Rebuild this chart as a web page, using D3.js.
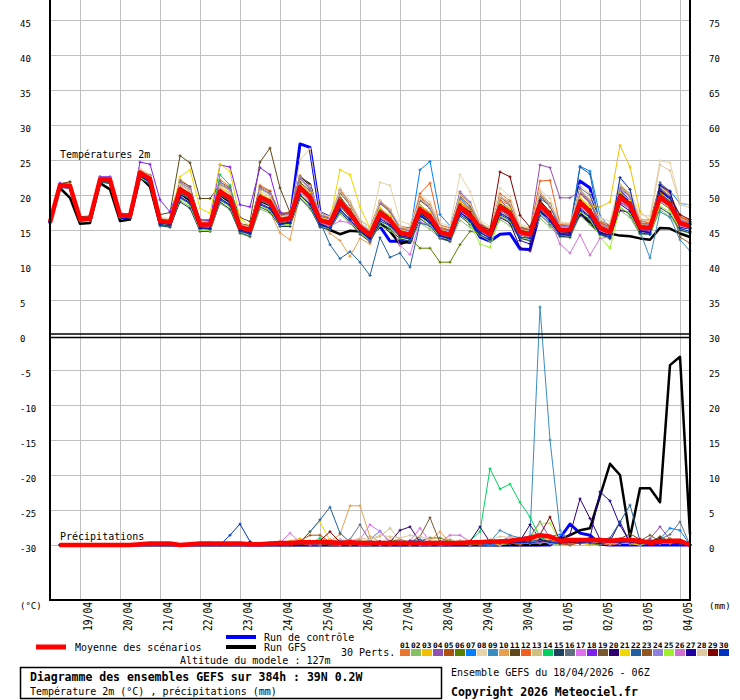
<!DOCTYPE html>
<html><head><meta charset="utf-8">
<script src="https://cdn.jsdelivr.net/npm/d3@7"></script>
<style>body{margin:0;background:#fff}svg{display:block}text{font-family:"DejaVu Sans Mono",monospace;fill:#000}</style>
</head><body><svg id="chart" width="740" height="700"></svg>
<script>
// ---------- DATA ----------
const stepHours = 6;
const dayLabels = ["19/04","20/04","21/04","22/04","23/04","24/04","25/04","26/04","27/04","28/04","29/04","30/04","01/05","02/05","03/05","04/05"];
const dayHours = [18,42,66,90,114,138,162,186,210,234,258,282,306,330,354,378];
const leftTicks = [45,40,35,30,25,20,15,10,5,0,-5,-10,-15,-20,-25,-30];
const rightTicks = [75,70,65,60,55,50,45,40,35,30,25,20,15,10,5,0];
const tempGrid = [45,40,35,30,25,20,15,10,5];
const lowGrid = [-5,-10,-15,-20,-25,-30];
const pertNames = ["01","02","03","04","05","06","07","08","09","10","11","12","13","14","15","16","17","18","19","20","21","22","23","24","25","26","27","28","29","30"];
const pertColors = ["#e87830","#88c060","#f0c000","#9050b0","#b05010","#5a8000","#0080ff","#e8d4a8","#3a8cc0","#e8a050","#604818","#f06020","#d0c080","#00d060","#204060","#607080","#e070f0","#8020f0","#785830","#300070","#f0d800","#2060a0","#905820","#9080e0","#a0f030","#d070d0","#2000a0","#e0c8a0","#800000","#0030c0"];

// 2m temperature (°C), every 6 h from 18/04 06Z
const tMean = [16.1, 21.4,21.3,16.6,16.6,22.2,22.2,17.1,17.0, 23.2,22.3,16.3,16.1,20.8,19.9,15.8,15.8, 20.5,19.6,15.4,15.0,19.7,19.0,16.4,16.7, 21.1,19.7,16.4,16.0,19.0,17.4,15.4,14.3, 17.4,16.4,14.6,14.3,17.9,16.9,14.7,14.3, 18.3,17.1,15.3,14.4,18.3,17.4,14.7,14.4, 18.6,17.1,15.0,15.0,18.9,17.6,15.3,14.7, 19.7,18.6,15.4,15.3,19.7,18.6,16.0,15.6];
const tGFS = [16.2, 21.0,19.6,15.9,16.0,21.7,20.8,16.3,16.5, 22.6,21.2,15.8,15.6,20.3,19.2,15.3,15.5, 20.0,19.0,15.0,14.6,19.2,18.5,16.0,16.2, 22.5,21.5,16.0,15.0,14.4,14.9,14.8,13.8, 16.0,14.8,13.0,13.5,17.5,16.5,14.5,14.0, 18.0,17.0,15.0,14.2,18.0,17.0,14.5,14.0, 18.5,17.0,14.8,14.6,17.5,16.0,14.6,14.5, 14.2,14.1,13.8,13.6,15.3,15.2,14.5,14.0];
const tCtrl = [16.2, 21.2,21.1,16.4,16.5,22.0,21.8,16.8,16.8, 22.8,21.8,16.0,15.8,20.3,19.4,15.5,15.5, 20.1,19.1,15.1,14.7,19.4,18.7,16.0,16.4, 27.3,26.8,17.5,16.8,19.5,17.6,15.2,14.3, 15.5,13.4,13.4,13.2,17.2,16.2,14.0,13.6, 17.8,16.5,14.0,13.4,14.4,14.5,12.3,12.2, 17.5,17.0,14.4,14.6,22.0,21.0,14.8,14.4, 20.5,19.0,15.0,14.8,20.5,19.4,15.5,15.3];
const tPerts = [
[16.2, 21.6,21.8,16.8,16.9,22.6,22.5,17.4,17.3, 23.6,22.8,16.6,16.0,22.2,21.2,16.3,16.2, 22.2,21.2,15.8,15.4,21.4,20.6,17.2,17.5, 22.8,21.4,17.2,16.8,20.8,18.9,16.0,14.9, 19.2,17.9,15.3,15.1,19.8,18.6,15.4,15.0, 20.4,18.9,15.8,15.0,20.2,19.2,15.3,14.9, 20.4,18.8,15.8,15.5,20.8,19.3,16.2,15.4, 21.2,20.0,16.3,16.0,21.5,20.2,16.8,16.2],
[16.1, 21.2,21.0,16.4,16.5,21.9,22.0,17.0,16.9, 22.6,21.6,15.8,15.4,19.2,18.3,15.0,14.8, 18.8,17.9,14.5,14.0,18.0,17.4,15.6,15.7, 19.4,18.0,15.5,15.2,17.3,15.9,14.6,13.4, 15.6,14.9,13.8,13.4,16.0,15.1,13.8,13.3, 16.4,15.4,14.2,13.4,16.5,15.6,13.8,13.4, 16.7,15.4,14.0,13.9,17.0,15.8,14.3,13.7, 17.8,16.8,14.4,14.3,17.9,16.9,14.9,14.5],
[16.2, 21.5,21.4,16.7,16.6,22.3,22.4,17.2,17.1, 23.5,22.6,16.5,16.3,21.2,20.3,16.0,16.0, 21.0,20.2,15.6,15.2,20.2,19.4,16.6,16.9, 21.6,20.4,16.8,16.2,19.6,17.9,15.6,14.5, 17.8,16.8,14.9,14.6,18.4,17.4,15.0,14.6, 18.8,17.6,15.6,14.8,18.8,17.9,15.0,14.7, 19.0,17.6,15.4,15.6,19.6,18.4,18.3,19.0, 27.1,24.0,17.6,16.4,21.0,19.6,16.6,16.0],
[16.1, 21.3,21.2,16.5,16.6,22.1,22.0,17.0,17.0, 23.0,22.2,16.4,16.2,20.9,20.1,15.9,15.9, 20.6,19.8,15.5,15.1,20.0,19.3,16.5,16.8, 21.3,20.0,16.6,16.2,19.4,17.7,15.6,14.5, 17.9,16.8,14.8,14.6,18.5,17.4,15.0,14.6, 18.9,17.8,15.7,14.9,19.2,18.0,15.4,15.0, 24.3,23.9,19.6,19.6,20.5,19.0,16.0,15.5, 20.6,19.3,16.0,15.8,20.4,19.2,16.5,16.1],
[16.2, 21.4,21.5,16.6,16.7,22.4,22.3,17.3,17.2, 23.4,22.5,16.5,16.2,21.8,20.9,16.4,16.5, 21.6,20.6,15.9,15.6,21.2,20.5,17.3,17.6, 22.6,21.0,17.3,17.0,20.6,18.8,16.4,15.4, 19.0,17.8,15.5,15.3,19.6,18.4,15.7,15.3, 20.2,18.7,16.0,15.2,19.8,18.9,15.4,15.1, 20.2,18.6,15.9,15.8,20.6,19.2,16.3,15.7, 21.4,20.2,16.5,16.4,21.4,20.1,17.0,16.2],
[16.0, 21.2,21.1,16.5,16.4,22.0,21.9,16.9,16.8, 22.9,22.0,16.1,15.9,20.5,19.6,15.6,15.6, 20.2,19.3,15.2,14.8,19.4,18.7,16.2,16.4, 20.7,19.3,16.1,15.7,18.6,17.0,15.0,14.0, 16.9,15.9,14.1,13.8,12.4,12.4,10.4,10.4, 12.9,14.8,14.6,13.9,17.5,16.6,14.3,13.9, 17.9,16.5,14.6,14.5,18.2,17.0,14.9,14.3, 19.0,18.0,15.0,14.8,19.0,18.0,15.5,15.2],
[16.1, 21.5,21.3,16.6,16.5,22.3,22.2,17.1,17.0, 23.3,22.4,16.3,16.0,20.9,20.0,15.7,15.7, 20.6,19.7,15.3,14.9,19.9,19.2,16.4,16.8, 21.5,20.1,16.5,16.1,19.4,17.6,15.5,14.4, 17.6,16.6,14.8,14.5,23.6,24.8,17.2,15.6, 19.6,18.0,15.6,14.6,18.8,17.8,15.0,14.7, 19.2,17.5,15.2,15.3,24.1,23.4,17.0,15.4, 20.4,19.2,15.7,15.6,21.5,20.6,18.8,18.6],
[16.2, 21.6,21.6,16.8,16.8,22.6,22.6,17.4,17.3, 23.8,22.9,16.8,16.6,21.8,20.9,16.4,16.3, 21.4,20.5,15.9,15.5,20.8,20.1,17.0,17.3, 22.5,21.2,17.3,16.9,21.0,19.2,16.4,15.4, 21.8,21.4,16.3,15.8,20.0,19.0,16.0,15.6, 22.9,20.5,16.4,15.5,21.0,19.8,15.8,15.4, 20.8,19.5,16.2,16.0,21.4,20.2,16.8,16.2, 22.2,20.8,17.2,17.0,24.9,24.6,18.9,18.6],
[16.1, 21.3,21.2,16.5,16.5,22.0,22.1,17.0,16.9, 22.9,22.0,16.0,15.6,19.6,18.6,15.2,15.4, 19.6,18.6,15.0,14.6,19.4,18.5,16.1,16.4, 20.8,19.2,16.0,15.6,18.4,16.9,15.1,14.2, 17.0,16.0,14.4,14.0,17.6,16.5,14.4,14.0, 18.0,16.8,15.0,14.2,18.0,17.2,14.6,14.2, 18.4,17.0,14.8,14.8,18.8,17.2,15.0,14.5, 19.4,18.0,14.8,11.0,17.6,16.8,13.6,12.0],
[16.2, 21.4,21.3,16.6,16.6,22.2,22.1,17.1,17.0, 23.1,22.2,16.2,16.0,20.6,19.7,15.6,15.6, 20.3,19.4,15.2,14.7,18.8,17.6,14.6,13.6, 20.0,19.0,16.0,14.5,13.5,11.2,13.8,13.0, 16.8,16.2,14.4,14.0,18.0,17.0,14.8,14.4, 18.6,17.4,15.4,14.6,18.6,17.6,15.0,14.6, 18.8,17.2,15.2,15.1,19.2,17.9,15.6,14.9, 20.0,18.9,15.8,15.6,20.0,19.0,16.4,15.9],
[16.2, 21.6,21.9,16.9,17.0,22.4,22.5,17.2,17.2, 23.4,22.8,17.2,17.5,25.6,24.6,19.5,19.5, 21.5,20.8,16.8,16.2,24.7,26.7,21.0,17.5, 21.8,20.6,17.0,16.6,19.6,18.0,15.8,14.8, 17.8,16.9,15.0,14.8,18.5,17.5,15.1,14.7, 19.0,17.6,15.7,14.8,18.8,17.8,15.1,14.8, 19.0,17.4,15.3,15.2,19.4,18.0,15.6,15.0, 20.0,19.0,15.8,15.6,20.2,19.0,16.2,15.8],
[16.2, 21.5,21.4,16.7,16.7,22.4,22.3,17.2,17.1, 23.4,22.5,16.5,16.2,21.0,20.1,15.9,15.9, 20.8,19.8,15.5,15.1,20.0,19.3,16.7,17.0, 21.4,20.0,16.6,16.3,19.5,17.9,15.7,14.6, 18.0,17.0,15.0,14.7,20.2,21.7,15.4,14.9, 19.3,17.9,15.8,14.8,19.3,18.5,15.2,14.9, 22.0,22.1,15.8,15.5,20.2,18.8,16.0,15.4, 21.4,20.0,16.3,16.0,21.0,19.6,16.8,16.5],
[16.1, 21.4,21.2,16.6,16.6,22.1,22.2,17.1,17.0, 23.2,22.3,16.2,16.1,21.6,20.8,16.1,16.0, 21.6,20.6,15.8,15.4,20.8,20.1,16.9,17.2, 22.2,20.8,16.9,16.5,20.4,18.6,15.9,14.8, 18.8,17.6,15.1,14.8,19.3,18.1,15.2,14.8, 19.8,18.3,15.8,14.8,19.8,18.7,15.2,14.8, 20.0,18.4,15.5,15.5,20.3,18.9,15.8,15.1, 21.2,20.0,15.9,15.8,21.2,20.0,16.5,16.0],
[16.1, 21.3,21.3,16.5,16.6,22.2,22.1,17.0,17.0, 23.0,22.1,16.3,16.1,20.4,19.5,15.6,15.6, 22.9,21.4,15.8,15.2,19.6,18.9,16.3,16.5, 20.9,19.5,16.3,15.9,18.8,17.2,15.3,14.2, 17.2,16.3,14.5,14.2,17.8,16.8,14.6,14.2, 18.1,17.0,15.1,14.2,18.0,17.1,14.5,14.2, 18.4,17.0,14.9,14.9,18.7,17.4,15.1,14.5, 19.5,18.4,15.3,15.1,19.6,18.4,15.8,15.4],
[16.0, 21.1,21.0,16.3,16.4,21.8,21.8,16.8,16.7, 22.4,21.5,15.6,15.4,19.0,18.1,14.8,14.8, 19.0,18.0,14.6,14.1,18.3,17.6,15.5,15.5, 19.6,18.2,15.4,15.0,17.6,16.1,14.4,13.3, 16.0,15.2,13.7,13.4,16.6,15.6,13.8,13.4, 17.0,15.8,14.3,13.6,17.0,16.1,13.8,13.5, 17.2,15.8,14.1,14.0,17.4,16.3,14.4,13.8, 18.2,17.2,14.5,14.4,18.2,17.3,15.0,14.6],
[16.2, 21.4,21.4,16.7,16.7,22.3,22.2,17.1,17.1, 23.3,22.4,16.4,16.2,20.2,19.4,15.4,15.3, 20.0,19.1,15.0,14.6,19.2,18.6,16.0,16.2, 20.5,19.1,16.0,15.5,18.4,16.8,15.0,13.9, 16.8,15.8,14.2,13.9,17.3,16.3,14.3,13.9, 17.7,16.5,14.9,14.0,17.8,16.8,14.3,14.0, 18.0,16.6,14.6,14.6,21.0,20.0,14.9,14.3, 19.1,18.0,15.0,14.9,21.8,20.4,15.6,15.2],
[16.1, 21.5,21.4,16.7,16.6,22.5,22.3,17.0,16.9, 23.1,22.2,16.1,15.8,20.5,19.6,15.6,15.5, 20.4,19.6,15.3,14.9,19.5,18.8,16.2,16.4, 20.6,19.3,16.1,15.5,16.3,16.0,14.8,13.5, 16.8,16.0,12.8,11.5,16.2,15.6,14.0,13.6, 17.6,16.8,14.8,14.0,17.8,17.0,14.4,14.0, 18.2,16.8,14.6,14.4,18.4,17.2,14.9,14.3, 19.2,18.2,15.0,14.9,19.4,18.4,15.7,15.3],
[16.2, 21.7,21.5,16.8,16.8,22.6,22.6,17.4,17.3, 24.7,24.4,19.3,17.6,21.5,20.6,16.5,16.3, 24.3,24.0,18.6,18.3,23.9,22.9,17.6,17.0, 21.4,20.0,16.6,16.2,19.2,17.6,15.6,14.5, 17.6,16.6,14.8,14.5,18.0,17.0,14.9,14.5, 18.4,17.3,15.5,14.6,18.4,17.6,14.9,14.6, 18.7,17.3,15.2,15.1,19.0,17.8,15.5,14.9, 19.8,18.7,15.6,15.4,19.9,18.8,16.2,15.8],
[16.2, 21.5,21.5,16.7,16.7,22.4,22.3,17.2,17.1, 23.5,22.6,16.6,16.4,22.0,21.2,16.3,16.2, 21.9,21.0,15.9,15.6,21.0,20.2,17.1,17.4, 22.4,20.9,17.0,16.6,20.3,18.6,16.0,14.9, 18.8,17.6,15.2,14.9,19.2,18.1,15.2,14.9, 19.8,18.4,15.9,14.9,19.7,18.6,15.3,14.9, 19.9,18.3,15.6,15.5,20.3,18.9,15.8,15.2, 21.0,19.8,16.0,15.8,21.0,19.8,16.4,16.0],
[16.1, 21.3,21.2,16.5,16.5,22.0,22.0,16.9,16.9, 22.9,22.1,16.2,16.0,20.5,19.6,15.6,15.6, 20.3,19.4,15.3,14.9,19.6,18.9,16.3,16.5, 20.9,19.5,16.3,15.9,18.9,17.3,15.3,14.2, 17.3,16.3,14.5,14.2,17.8,16.8,14.6,14.2, 18.2,17.0,15.2,14.0,16.8,16.0,12.5,12.0, 17.6,16.6,14.5,14.6,17.1,16.6,14.6,14.3, 17.8,17.5,15.0,15.0,19.4,18.4,15.8,15.3],
[16.2, 21.5,21.4,16.7,16.7,22.3,22.3,17.2,17.1, 23.5,22.5,16.6,16.5,22.6,23.6,18.1,17.4, 24.4,23.4,16.6,15.6,20.2,19.4,16.6,16.9, 21.5,20.3,16.8,16.4,23.6,22.9,18.3,15.2, 18.2,17.0,15.1,14.7,18.5,17.5,15.1,14.7, 19.0,17.7,15.7,14.8,18.9,18.0,15.2,14.8, 19.2,17.6,15.4,15.4,19.5,18.2,15.7,15.1, 20.4,19.2,15.8,15.6,20.3,19.3,16.4,16.0],
[16.1, 21.4,21.3,16.6,16.6,22.2,22.1,17.0,16.9, 23.0,22.1,16.1,15.9,20.4,19.6,15.6,15.7, 20.4,19.5,15.3,14.8,19.5,18.9,16.3,16.6, 21.0,19.6,16.2,12.9,10.9,11.9,10.4,8.5, 13.9,11.1,11.7,9.7,16.0,15.6,14.0,13.8, 18.0,17.0,15.0,14.3,18.2,17.3,14.6,14.3, 19.5,18.5,15.0,15.0,24.0,23.0,15.4,14.8, 20.0,18.8,15.4,15.3,20.2,19.0,16.1,15.7],
[16.2, 21.5,21.4,16.7,16.7,22.3,22.3,17.2,17.1, 23.3,22.5,16.5,16.3,21.1,20.2,16.0,15.9, 20.7,19.8,15.5,15.1,20.0,19.3,16.6,16.9, 21.4,20.0,16.6,16.2,19.3,17.7,15.6,14.5, 17.7,16.7,14.9,14.5,18.2,17.2,14.9,14.5, 18.6,17.4,15.5,14.6,18.6,17.7,15.0,14.6, 18.9,17.4,15.2,15.2,19.2,17.9,15.5,14.9, 19.9,18.9,15.6,15.5,19.9,19.0,14.0,13.1],
[16.1, 21.4,21.3,16.6,16.6,22.2,22.2,17.1,17.0, 23.2,22.3,16.3,16.1,21.8,21.0,16.2,16.2, 21.8,20.8,15.8,15.4,21.0,20.2,17.0,17.3, 22.4,21.0,17.0,16.6,20.6,18.8,16.0,14.9, 19.0,17.8,15.2,14.8,19.4,18.2,15.2,14.8, 20.5,19.0,15.8,14.9,19.8,18.8,15.2,14.9, 20.0,18.5,15.5,15.5,20.4,19.0,15.8,15.2, 20.8,19.8,15.9,15.8,20.9,19.8,16.5,16.0],
[16.0, 21.2,21.1,16.4,16.4,21.9,21.9,16.8,16.8, 22.5,21.7,15.9,15.6,19.5,18.6,15.0,14.9, 19.2,18.3,14.8,14.3,18.4,17.8,15.7,15.8, 19.8,18.4,15.6,15.2,17.7,16.3,14.7,13.6, 16.2,15.4,13.9,13.7,16.8,15.8,14.0,13.7, 17.2,16.0,13.0,12.5,17.0,16.2,14.0,13.7, 17.4,16.0,14.3,14.2,17.6,16.6,14.0,12.4, 18.2,17.4,14.6,14.4,18.4,17.6,15.2,14.8],
[16.1, 21.4,21.3,16.6,16.5,22.2,22.1,17.0,16.9, 23.0,22.1,16.1,15.9,20.5,19.7,15.6,15.6, 20.3,19.4,15.2,14.8,19.4,18.8,16.2,16.4, 20.8,19.4,16.2,15.8,18.8,17.2,15.3,14.2, 17.2,16.3,14.5,14.1,17.7,16.8,14.5,14.1, 18.1,16.9,15.1,14.2,18.1,17.2,14.5,14.2, 18.4,16.5,13.0,11.7,14.3,11.4,13.8,14.0, 18.9,18.0,15.2,15.0,19.2,18.2,15.6,15.2],
[16.1, 21.3,21.2,16.5,16.5,22.0,22.0,16.9,16.8, 22.7,21.8,16.0,15.8,19.8,18.9,15.3,15.2, 19.5,18.6,15.0,14.6,18.8,18.1,15.8,16.0, 20.0,18.7,15.8,15.3,18.0,16.5,14.8,13.8, 16.6,15.7,14.2,13.9,17.0,16.1,14.2,13.8, 17.5,16.4,14.7,13.8,17.4,16.6,13.5,13.0, 17.7,16.4,14.4,14.4,18.0,16.9,14.6,14.0, 18.7,17.7,14.8,14.6,21.4,20.5,16.0,15.2],
[16.2, 21.5,21.5,16.7,16.8,22.4,22.4,17.3,17.2, 23.6,22.7,16.7,16.5,21.5,20.6,16.2,16.1, 21.2,20.3,15.8,15.4,20.5,19.8,16.9,17.1, 25.0,26.6,17.6,16.8,20.5,18.8,16.0,15.0, 19.2,18.0,15.5,15.1,19.5,18.4,15.6,15.2, 20.0,18.7,16.1,15.2,19.8,18.8,15.6,15.2, 20.3,18.6,16.0,15.8,20.6,19.4,16.4,15.8, 21.5,20.2,16.6,16.4,24.3,23.5,18.6,18.2],
[16.2, 21.4,21.4,16.6,16.7,22.3,22.2,17.1,17.1, 23.3,22.4,16.4,16.2,20.9,20.0,15.8,15.8, 20.6,19.7,15.4,15.0,19.8,19.1,16.5,16.8, 21.2,19.8,16.5,16.1,19.1,17.5,15.5,14.4, 17.5,16.5,14.7,14.4,18.0,17.0,14.8,14.4, 18.6,17.6,15.6,15.0,23.3,22.6,17.1,15.4, 19.2,17.6,15.2,15.0,19.2,17.9,15.5,14.9, 20.0,18.9,15.5,15.3,20.6,19.6,17.2,16.5],
[16.1, 21.3,21.2,16.5,16.5,22.0,22.0,16.9,16.9, 22.7,21.8,15.8,15.6,19.6,18.8,15.2,15.1, 19.3,18.5,14.8,14.4,18.6,18.0,15.8,16.0, 20.0,18.6,15.6,15.3,17.8,16.4,14.8,13.6, 16.3,15.6,14.0,13.7,17.0,16.0,14.1,13.7, 17.2,16.2,14.6,13.8,17.2,16.4,14.0,13.8, 17.6,16.2,14.3,14.2,17.8,16.8,14.4,14.0, 22.5,20.8,14.6,14.4,20.8,19.6,15.2,14.8]
];

// precipitation (mm / 6 h); no value at the first step
const pMean = [null, 0,0,0,0,0,0,0,0, 0.1,0.2,0.2,0.2,0,0.1,0.2,0.2, 0.2,0.2,0.2,0.1,0.1,0.2,0.3,0.3, 0.4,0.4,0.4,0.4,0.3,0.4,0.3,0.3, 0.3,0.3,0.3,0.3,0.3,0.3,0.3,0.3, 0.3,0.4,0.4,0.5,0.5,0.6,0.8,1.0, 1.4,1.2,0.6,0.7,0.7,0.7,0.7,0.6, 0.7,0.7,0.6,0.3,0.5,0.6,0.6,0];
const pGFS = [null, 0,0,0,0,0,0,0,0, 0,0,0,0,0,0,0,0, 0,0,0,0,0,0,0,0, 0,0,0,0,0,0,0,0, 0,0,0,0,0,0,0,0, 0,0,0,0,0,0,0,0, 0,0.3,0.8,1.4,2.1,2.4,7.0,11.6, 10.0,1.1,8.1,8.1,6.1,25.7,26.9,1.5];
const pCtrl = [null, 0,0,0,0,0,0,0,0, 0,0,0,0,0,0,0,0, 0,0,0,0,0,0,0,0, 0,0,0,0,0,0,0,0, 0,0,0,0,0,0,0,0, 0,0,0,0,0,0,0,0, 0,0,1.0,3.0,1.7,1.4,0.1,0, 0,0,0,0,0,0,0,0];
const pPerts = [
[null, 0,0,0,0,0,0,0,0, 0,0,0,0,0,0,0,0, 0,0,0,0.1,0,0,0.3,0.5, 0.2,0,0.4,0.8,0.3,0,0.2,0.5, 0.3,0,0.2,0.6,0.4,0.1,0,0.2, 0.5,0.3,0,0,0.2,0.4,0.6,0.3, 0.5,0.8,0.2,0,0.3,0.5,0.2,0, 0.2,0.6,0.3,0.8,0.4,0.2,0.5,0],
[null, 0,0,0,0,0,0,0,0, 0,0,0,0,0,0,0,0, 0,0,0,0,0.2,0.3,0,0, 0.4,0.6,0.2,0,0,0.3,0.7,0.2, 0,0.1,0.4,0.3,0,0,0.5,0.8, 0.2,0,0.1,0.3,0,0.2,0.4,0.9, 0.6,0.2,0,0.4,0.8,0.3,0.1,0.5, 0.7,0.2,0,0.3,0.6,0.4,0.2,0],
[null, 0,0,0,0,0,0,0,0, 0,0,0,0,0,0,0,0, 0,0,0,0,0,0,0.2,0.6, 0.9,0.4,0,0.3,0.5,0.2,0,0, 0.3,0.6,0.2,0,0.4,0.3,0,0.1, 0.3,0.5,0.2,0,0,0.6,0.3,0.2, 0.8,0.4,0.2,0.6,0.3,0,0.4,0.9, 0.5,0.2,0,0.6,1.0,0.4,0.3,0],
[null, 0,0,0,0,0,0,0,0, 0,0,0,0,0,0,0,0, 0,0,0,0,0,0,0,0.2, 0.3,0,0,0.5,0.8,0.2,0,0.3, 0.5,0.2,0,0.4,0.6,0.2,0,0, 0.2,0.4,0.1,0,0.3,0.5,0.8,1.2, 3.3,1.0,0.3,0.2,0.5,0.4,0.2,0.3, 0.6,0.4,0.3,0.9,2.6,0.8,0.4,0],
[null, 0,0,0,0,0,0,0,0, 0,0,0,0,0,0,0,0, 0,0,0,0,0,0.2,0.5,0.3, 0.6,1.4,1.4,0.4,0.2,0,0.3,0.6, 0.2,0,0.3,0.5,0.2,0,0.2,0.4, 0.6,0.2,0,0.2,0.4,0.3,0,0.5, 0.7,0.3,0.2,0,0.4,0.8,0.3,0.2, 0.5,0.9,0.4,0.2,0.6,0.3,0.4,0],
[null, 0,0,0,0,0,0,0,0, 0,0,0,0,0,0,0,0, 0,0,0,0,0,0,0,0, 0.2,0.5,0.3,0,0.4,0.7,0.2,0, 0.3,0.5,0.8,0.4,0.6,1.0,1.0,0.5, 0.3,0.2,0,0.4,0.3,0.2,0.5,0.3, 0.4,0.6,0.2,0.3,0.5,0.2,0,0.6, 0.8,0.3,0.2,0.4,0.5,0.9,0.3,0],
[null, 0,0,0,0,0,0,0,0, 0,0,0,0,0,0,0,0, 0,0,0,0,0,0,0.2,0.3, 0.5,0.2,0,0.4,0.3,0.6,0.2,0, 0.3,0.4,0.2,0.5,0.8,0.3,0,0.2, 0.4,0.3,0.2,0,0.3,0.6,0.4,0.5, 0.8,1.2,1.5,0.6,0.3,0.5,0.2,0.4, 0.6,0.3,0.2,0.5,0.9,2.4,2.1,0],
[null, 0,0,0,0,0,0,0,0, 0,0,0,0,0,0,0,0, 0,0,0,0,0,0.1,0,0.4, 0.3,0.2,0.5,0.6,0.4,0.3,0.8,0.5, 0.4,1.0,0.6,0.3,0.2,0.4,0.3,0.2, 0.5,0.4,0.3,0.2,0.6,1.2,1.1,0.4, 0.3,0.5,0.2,0.4,0.3,0.2,0.4,0.3, 0.2,0.5,0.6,0.3,0.2,0.4,0.3,0],
[null, 0,0,0,0,0,0,0,0, 0,0,0,0,0,0,0,0, 0,0,0,0,0,0,0,0.3, 0.2,0.4,0,0.5,0.6,0.3,0.2,0.8, 2.0,0.3,0.2,0.5,0.4,0.2,0,0.3, 0.4,0.2,0.3,0.5,2.1,1.4,1.0,1.3, 34.0,15.0,2.1,0.5,0.3,0.2,0.4,0.3, 0.5,0.6,0.3,0.2,0.4,0.3,0.2,0],
[null, 0,0,0,0,0,0,0,0, 0,0,0,0,0,0,0,0, 0,0,0,0,0,0,0.2,0.4, 0.3,0.2,0.5,0.5,1.5,5.6,5.6,1.2, 0.5,0.3,0.2,0.4,0.3,0.6,1.9,0.4, 0.2,0.3,0.4,0.2,0.3,0.5,0.2,0.3, 0.4,0.6,0.3,0.2,0.4,0.3,0.2,0.5, 0.3,0.4,0.2,0.6,0.3,0.4,0.2,0],
[null, 0,0,0,0,0,0,0,0, 0,0,0,0,0,0,0,0, 0,0,0,0,0,0,0,0.2, 0.4,0.3,0.2,0,0.5,0.3,0.2,0.4, 0.3,0.5,0.6,0.2,0.3,0.4,0.2,0, 0.2,0.4,0.3,0.2,0.5,0.3,0.4,0.6, 0.5,0.3,0.2,0.4,0.3,0.5,0.6,0.4, 0.9,1.6,0.8,0.4,1.2,0.5,0.3,0],
[null, 0,0,0,0,0,0,0,0, 0,0,0,0,0,0,0,0, 0,0,0,0,0,0.2,0.3,0.2, 0.5,0.3,0.6,0.2,0,0.4,0.3,0.2, 0.4,0.3,0.5,0.2,0.3,0.2,0.4,0.3, 0.2,0.5,0.3,0.4,0.2,0.3,0.5,0.4, 0.6,0.4,0.3,0.5,0.2,0.4,0.3,0.2, 0.4,0.3,0.5,0.2,0.3,0.6,0.4,0],
[null, 0,0,0,0,0,0,0,0, 0,0,0,0,0,0,0.4,0.4, 0.2,0,0,0,0,0.3,0.2,0.5, 0.3,0.4,0.2,0.6,0.3,0.5,0.4,0.8, 1.2,2.4,0.6,0.3,0.2,0.4,0.3,0.2, 0.3,0.2,0.4,0.3,0.2,0.5,0.3,0.4, 0.5,0.3,0.4,0.2,0.5,0.3,0.2,0.4, 0.3,0.2,0.5,0.4,0.3,0.6,0.4,0],
[null, 0,0,0,0,0,0,0,0, 0,0,0,0,0,0,0,0, 0,0,0,0,0,0,0,0.2, 0.3,0.2,1.0,0.4,0.3,0.2,0.4,0.3, 0.2,0.4,0.3,0.2,0.5,0.3,0.2,0.4, 0.3,0.6,1.9,10.9,8.0,8.7,6.1,4.0, 1.1,0.4,0.3,0.2,0.4,0.3,0.2,0.5, 0.4,0.3,0.2,0.3,0.5,0.4,0.3,0],
[null, 0,0,0,0,0,0,0,0, 0,0,0,0,0,0,0,0, 0,0,0,0,0,0,0,0, 0.2,0.3,0.5,0.2,0.4,0.6,0.3,0.2, 0.4,0.2,0.3,0.5,0.4,0.3,0.2,0.4, 0.5,0.3,0.2,0.4,0.6,0.3,0.5,0.4, 0.3,0.5,0.8,0.4,0.3,0.6,0.4,0.5, 0.3,0.4,0.6,0.3,0.5,0.4,0.3,0],
[null, 0,0,0,0,0,0,0,0, 0,0,0,0,0,0,0,0, 0,0,0,0,0,0,0.2,0.3, 0.4,0.2,0.3,0.5,0.4,0.8,2.9,0.6, 0.4,0.3,0.2,0.5,0.3,0.2,0.4,0.3, 0.2,0.4,0.3,0.5,0.4,0.3,0.2,0.5, 0.4,0.3,0.5,0.2,0.4,0.3,0.6,0.4, 0.5,0.9,0.4,0.6,0.8,1.5,3.3,0],
[null, 0,0,0,0,0,0,0,0, 0,0,0,0,0,0,0,0, 0,0,0,0,0,0,0.3,1.7, 0.4,0.2,0.3,0.5,0.4,0.6,0.8,2.9, 1.9,0.5,0.4,0.6,2.4,0.5,0.3,0.4, 0.3,0.5,0.2,0.4,0.3,0.2,0.5,0.3, 0.4,0.3,0.5,0.2,0.3,0.4,0.2,0.3, 0.5,0.3,0.2,0.4,0.3,0.5,0.2,0],
[null, 0,0,0,0,0,0,0,0, 0,0,0,0,0,0,0,0, 0,0,0,0,0,0,0,0, 0.3,0.2,0.4,0.3,0.2,0.5,0.3,0.2, 0.4,0.3,0.2,0.6,0.4,0.3,0.2,0.4, 0.3,0.5,0.4,0.2,0.3,0.6,0.8,0.5, 0.4,0.3,0.6,0.4,0.5,0.3,0.4,0.5, 0.6,0.4,0.3,0.5,0.4,0.8,0.5,0],
[null, 0,0,0,0,0,0,0,0, 0,0,0,0,0,0,0,0, 0,0,0,0,0,0,0,0.2, 0.3,0.4,0.2,0.5,0.3,0.4,0.2,0.3, 0.4,0.3,0.5,0.4,1.2,3.9,0.3,0.2, 0.3,0.4,0.2,0.3,0.5,0.3,0.2,0.4, 0.3,0.5,0.4,0.3,0.2,0.4,0.3,0.5, 0.4,0.3,0.6,1.4,0.5,0.3,0.4,0],
[null, 0,0,0,0,0,0,0,0, 0,0,0,0,0,0,0,0, 0,0,0,0,0,0,0,0, 0.2,0.3,0.2,0.4,0.3,0.2,0.4,0.3, 0.5,0.4,2.1,2.6,0.4,0.3,0.2,0.3, 0.4,0.5,2.6,0.4,0.3,0.5,0.6,2.9, 0.8,0.5,0.4,1.5,6.6,3.8,0.8,0.5, 3.3,0.3,0.4,0.2,0.5,0.3,0.2,0],
[null, 0,0,0,0,0,0,0,0, 0,0,0,0,0,0,0,0, 0,0,0,0,0,0,0,0.2, 0.4,1.9,3.3,0.6,0.3,0.2,0.4,0.3, 0.2,0.4,0.3,0.5,0.2,0.3,0.4,0.2, 0.3,0.2,0.4,0.3,0.5,0.4,0.3,0.6, 1.2,0.8,0.4,0.3,0.5,0.2,0.4,0.3, 0.5,0.3,0.4,0.2,0.6,0.3,0.4,0],
[null, 0,0,0,0,0,0,0,0, 0,0,0,0,0,0,0,0, 0,0,0,0,0,0,0,0.2, 0.4,1.9,3.6,5.4,1.7,0.4,0.3,0.2, 0.3,0.4,0.2,0.3,0.5,0.2,0.3,0.4, 0.2,0.3,0.5,0.4,0.3,0.2,0.4,0.3, 0.5,0.4,0.3,0.2,0.4,0.6,0.8,1.0, 3.3,5.7,0.6,0.4,0.3,0.5,0.2,0],
[null, 0,0,0,0,0,0,0,0, 0,0,0,0,0,0,0,0, 0,0,0,0,0,0,0,0, 0.2,0.4,0.3,0.2,0.5,0.3,0.4,0.2, 0.3,0.5,0.2,0.4,0.3,0.2,0.5,0.3, 0.4,0.2,0.3,0.5,0.4,0.3,0.2,0.4, 0.3,0.6,0.4,0.3,0.5,0.4,0.3,0.6, 0.5,0.4,0.3,0.6,0.4,0.5,0.3,0],
[null, 0,0,0,0,0,0,0,0, 0,0,0,0,0,0,0,0, 0,0,0,0,0,0,0.2,0, 0.3,0.2,0.4,0.3,0.6,0.4,0.2,0.5, 0.3,0.2,0.4,0.3,0.5,0.4,0.3,0.2, 0.4,0.3,0.2,0.5,0.4,1.2,0.6,0.3, 0.4,0.5,0.3,0.6,0.4,0.3,0.5,0.4, 0.3,0.5,0.4,0.3,0.6,0.4,0.3,0],
[null, 0,0,0,0,0,0,0,0, 0,0,0,0,0,0,0,0, 0,0,0,0,0,0,0,0, 0.2,0.3,0.2,0.4,0.3,0.2,0.4,0.3, 0.2,0.3,0.4,0.2,0.3,0.5,0.2,0.4, 0.3,0.2,0.4,0.3,0.5,0.4,0.6,1.0, 3.1,3.1,0.5,0.3,0.4,0.2,0.5,0.3, 0.4,0.6,0.3,0.5,0.4,0.8,0.3,0],
[null, 0,0,0,0,0,0,0,0, 0,0,0,0,0,0,0,0, 0,0,0,0,0,0,0,0.3, 0.2,0.4,0.3,0.5,0.2,0.4,0.3,0.5, 0.4,0.3,0.6,0.4,0.3,0.5,0.4,1.4, 1.4,0.5,0.3,0.4,0.2,0.5,0.3,0.4, 0.3,0.4,0.5,0.3,0.4,0.3,0.5,0.4, 0.3,0.4,0.2,0.5,0.3,0.4,0.5,0],
[null, 0,0,0,0,0,0,0,0, 0,0,0,0,0,0,0,0, 0,0,0,0,0,0,0,0, 0.2,0.3,0.4,0.2,0.3,0.5,0.3,0.2, 0.4,0.3,0.2,0.5,0.3,0.4,0.2,0.3, 0.4,0.2,0.3,0.4,0.6,0.3,0.5,0.4, 0.6,0.4,0.3,0.5,0.8,1.0,7.6,6.3, 2.8,0.4,0.3,0.5,0.4,0.3,0.2,0],
[null, 0,0,0,0,0,0,0,0, 0,0,0,0,0,0,0,0, 0,0,0,0,0,0,0.2,0.3, 0.4,0.6,0.5,0.3,0.8,0.6,1.0,0.8, 1.4,1.2,1.0,1.4,1.2,0.8,0.5,0.4, 0.6,0.5,0.4,0.8,1.2,1.1,0.8,0.4, 0.5,0.3,0.4,0.6,0.3,0.5,0.4,0.3, 0.4,0.6,0.3,0.4,0.5,0.3,0.4,0],
[null, 0,0,0,0,0,0,0,0, 0,0,0,0,0,0,0,0, 0,0,0,0,0,0,0,0.2, 0.3,0.4,0.6,1.9,0.4,0.3,0.2,0.4, 0.3,0.5,0.4,0.2,0.3,0.4,0.5,0.3, 0.4,0.3,0.5,0.4,0.3,0.5,0.4,0.6, 1.5,4.0,0.5,0.4,0.3,0.6,0.4,0.5, 0.4,0.6,0.8,0.5,0.9,0.4,0.6,0],
[null, 0,0,0,0,0,0,0,0, 0,0,0,0,0,0,0,0, 0,1.4,3.0,0.5,0,0,0.2,0.3, 0.2,0.4,0.3,0.2,0.5,0.3,0.4,0.2, 0.3,0.4,0.2,0.5,0.3,0.2,0.4,0.3, 0.2,0.3,0.4,0.2,0.5,0.3,0.4,0.3, 0.5,0.4,0.3,0.6,0.4,0.3,0.2,0.4, 0.3,0.5,0.2,0.4,0.3,0.5,0.4,0]
];

// ---------- DRAWING ----------
const svg = d3.select("#chart");
const x = d3.scaleLinear().domain([0, 384]).range([50, 690]);
const yT = d3.scaleLinear().domain([-30, 45]).range([545, 20]);   // temperature axis (left)
const yP = d3.scaleLinear().domain([0, 75]).range([545, 20]);     // precipitation axis (right)

svg.append("rect").attr("width",740).attr("height",700).attr("fill","#fff");

// grid
const grid = svg.append("g").attr("stroke","#c0c0c0").attr("stroke-width",1).attr("shape-rendering","crispEdges");
grid.selectAll(".hg").data(tempGrid.concat(lowGrid)).join("line")
  .attr("x1",x(0)).attr("x2",x(384)).attr("y1",d=>Math.round(yT(d))+0.5).attr("y2",d=>Math.round(yT(d))+0.5);
grid.selectAll(".vg").data(dayHours).join("line")
  .attr("x1",d=>x(d)+0.5).attr("x2",d=>x(d)+0.5).attr("y1",0).attr("y2",600);

const tLine = d3.line().defined(d=>d!=null).x((d,i)=>x(i*stepHours)).y(d=>yT(d));
const pLine = d3.line().defined(d=>d!=null).x((d,i)=>x(i*stepHours)).y(d=>yP(d));
function markers(arr, ys){
  let p="";
  arr.forEach((v,i)=>{ if(v==null) return; const cx=x(i*stepHours), cy=ys(v);
    p+=`M${cx-1.5},${cy}h3M${cx},${cy-1.5}v3`; });
  return p;
}

const series = svg.append("g").attr("fill","none").attr("stroke-linejoin","round");
// control and GFS runs first, members over them, ensemble mean on top
series.append("path").attr("d",tLine(tCtrl)).attr("stroke","#0000ff").attr("stroke-width",3);
series.append("path").attr("d",pLine(pCtrl)).attr("stroke","#0000ff").attr("stroke-width",3);
series.append("path").attr("d",tLine(tGFS)).attr("stroke","#000").attr("stroke-width",2.5);
series.append("path").attr("d",pLine(pGFS)).attr("stroke","#000").attr("stroke-width",2.5);
tPerts.forEach((s,k)=>{
  series.append("path").attr("d",tLine(s)).attr("stroke",pertColors[k]).attr("stroke-width",1);
  series.append("path").attr("d",markers(s,yT)).attr("stroke",pertColors[k]).attr("stroke-width",1);
});
pPerts.forEach((s,k)=>{
  series.append("path").attr("d",pLine(s)).attr("stroke",pertColors[k]).attr("stroke-width",1);
  series.append("path").attr("d",markers(s,yP)).attr("stroke",pertColors[k]).attr("stroke-width",1);
});
series.append("path").attr("d",tLine(tMean)).attr("stroke","#ff0000").attr("stroke-width",4.5);
series.append("path").attr("d",pLine(pMean)).attr("stroke","#ff0000").attr("stroke-width",4.5);

// frame
const frame = svg.append("g").attr("stroke","#000");
frame.append("line").attr("x1",50).attr("x2",50).attr("y1",0).attr("y2",601).attr("stroke-width",2);
frame.append("line").attr("x1",690).attr("x2",690).attr("y1",0).attr("y2",601).attr("stroke-width",2);
frame.append("line").attr("x1",50).attr("x2",690).attr("y1",600).attr("y2",600).attr("stroke-width",2);
frame.append("line").attr("x1",50).attr("x2",690).attr("y1",334).attr("y2",334).attr("stroke-width",1.5);
frame.append("line").attr("x1",50).attr("x2",690).attr("y1",337.5).attr("y2",337.5).attr("stroke-width",1.5);

// axes labels
const axL = svg.append("g").attr("transform","translate(20,3.5)")
  .call(d3.axisRight(yT).tickValues(leftTicks).tickSize(0).tickPadding(0).tickFormat(d=>String(d)));
axL.select(".domain").remove();
axL.selectAll("text").attr("font-family","DejaVu Sans Mono").attr("font-size",9).attr("fill","#000");

const axR = svg.append("g").attr("transform","translate(709,3.5)")
  .call(d3.axisRight(yP).tickValues(rightTicks).tickSize(0).tickPadding(0));
axR.select(".domain").remove();
axR.selectAll("text").attr("font-family","DejaVu Sans Mono").attr("font-size",9).attr("fill","#000");

const axB = svg.append("g").attr("transform","translate(0,600)")
  .call(d3.axisBottom(x).tickValues(dayHours).tickSize(0).tickFormat((d,i)=>dayLabels[i]));
axB.select(".domain").remove();
axB.selectAll("text").attr("font-family","DejaVu Sans Mono").attr("font-size",12).attr("fill","#000")
  .attr("transform","rotate(-90)").attr("text-anchor","end").attr("x",-2).attr("y",11.5).attr("dy",null)
  .attr("textLength",29).attr("lengthAdjust","spacingAndGlyphs");

function txt(s,xx,yy,size,bold){
  return svg.append("text").attr("x",xx).attr("y",yy).attr("font-size",size).attr("font-weight",bold?"bold":"normal").text(s);
}
txt("(°C)",20,609,9);
txt("(mm)",709,609,9);
txt("Températures 2m",60,158,10);
txt("Précipitations",60,540,10);

// legend
svg.append("line").attr("x1",36).attr("x2",66).attr("y1",647).attr("y2",647).attr("stroke","#ff0000").attr("stroke-width",5);
txt("Moyenne des scénarios",75,651,10);
svg.append("line").attr("x1",226).attr("x2",256).attr("y1",637).attr("y2",637).attr("stroke","#0000ff").attr("stroke-width",4);
txt("Run de contrôle",264,641,10);
svg.append("line").attr("x1",226).attr("x2",256).attr("y1",647).attr("y2",647).attr("stroke","#000").attr("stroke-width",4);
txt("Run GFS",264,651,10);
txt("30 Perts.",341,656,10);
const pl = svg.append("g");
pertNames.forEach((n,k)=>{
  pl.append("text").attr("x",400+11*k).attr("y",647.5).attr("font-family","DejaVu Sans").attr("font-size",7.5)
    .attr("font-weight","bold").attr("textLength",9.5).attr("lengthAdjust","spacingAndGlyphs").text(n);
  pl.append("rect").attr("x",400+11*k).attr("y",649).attr("width",10).attr("height",7).attr("fill",pertColors[k]);
});
txt("Altitude du modele : 127m",180,664,10);

svg.append("rect").attr("x",20.5).attr("y",667.5).attr("width",421).attr("height",31).attr("fill","none").attr("stroke","#000").attr("stroke-width",1.5);
txt("Diagramme des ensembles GEFS sur 384h : 39N 0.2W",30,681,11.5,true);
txt("Température 2m (°C) , précipitations (mm)",30,695,10);
txt("Ensemble GEFS du 18/04/2026 - 06Z",451,676,10);
txt("Copyright 2026 Meteociel.fr",451,696,11.5,true);
</script></body></html>
